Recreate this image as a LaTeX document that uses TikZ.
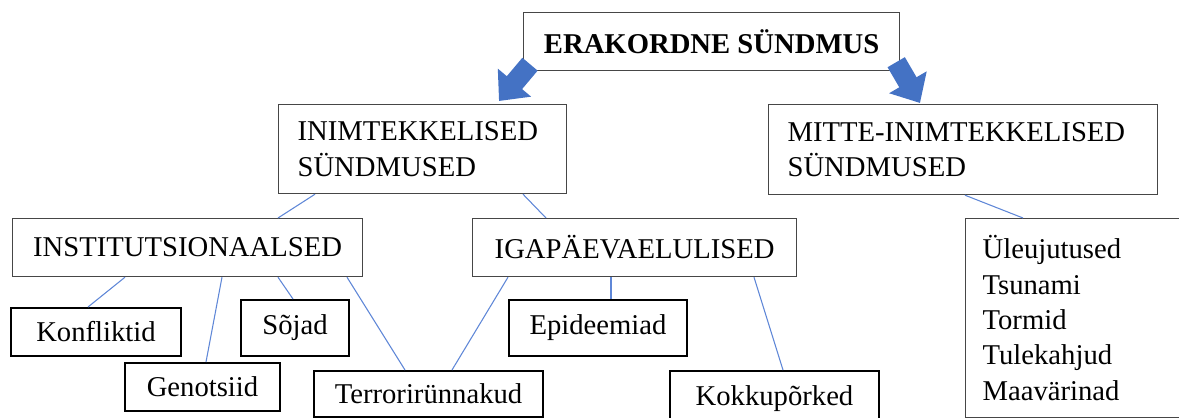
\documentclass[tikz,border=0pt]{standalone}
\usepackage{fontspec}
\setmainfont{Liberation Serif}
\usetikzlibrary{positioning,arrows.meta}
\definecolor{linkblue}{RGB}{95,135,215}
\definecolor{arrowblue}{RGB}{68,114,196}
\definecolor{boxgray}{RGB}{70,70,70}

\begin{document}
\begin{tikzpicture}[
  x=0.75pt, y=-0.75pt,
  font=\fontsize{21.5}{26.5}\selectfont,
  box/.style={draw=boxgray, line width=0.9pt, anchor=north west, inner sep=0pt, align=center},
  textbox/.style={box, align=left, inner xsep=14.25pt},
  leaf/.style={draw=black, line width=1.5pt, anchor=north west, inner sep=0pt},
  link/.style={draw=linkblue, line width=0.8pt},
  bigarr/.style={draw=arrowblue, line width=15pt, -{Triangle[length=18pt,width=31.5pt]}}]
\clip (0,0) rectangle (1179,418);
% main levels
\node[box, minimum width=282pt, minimum height=43.5pt] (event) at (523,12) {\bfseries ERAKORDNE SÜNDMUS};
\node[textbox, text width=187.5pt, minimum height=66.75pt] (human) at (278,104) {INIMTEKKELISED\\SÜNDMUSED};
\node[textbox, text width=263.25pt, minimum height=67.5pt] (natural) at (768,104) {MITTE-INIMTEKKELISED\\SÜNDMUSED};
\node[box, minimum width=262.5pt, minimum height=43.5pt] (inst) at (12,218) {INSTITUTSIONAALSED};
\node[box, minimum width=243pt, minimum height=43.5pt] (daily) at (472,218) {IGAPÄEVAELULISED};
\node[box, align=left, inner xsep=12.75pt, text width=147pt, minimum height=149.25pt] (list) at (965,218)
  {Üleujutused\\Tsunami\\Tormid\\Tulekahjud\\Maavärinad};
% leaves
\node[leaf, minimum width=127.5pt, minimum height=36pt] (konf) at (10,307) {Konfliktid};
\node[leaf, minimum width=116.25pt, minimum height=36pt] (geno) at (124,362) {Genotsiid};
\node[leaf, minimum width=81pt, minimum height=42pt] (war) at (240,299) {Sõjad};
\node[leaf, minimum width=171.75pt, minimum height=34.5pt] (terror) at (313,370) {Terrorirünnakud};
\node[leaf, minimum width=133.5pt, minimum height=42pt] (epid) at (508,299) {Epideemiad};
\node[leaf, minimum width=156.75pt, minimum height=42pt] (crash) at (669,370) {Kokkupõrked};
% connectors
\draw[link] ([xshift=27.75pt]human.south west) -- ([xshift=199.5pt]inst.north west);
\draw[link] ([xshift=183.75pt]human.south west) -- ([xshift=55.5pt]daily.north west);
\draw[link] ([xshift=147.75pt]natural.south west) -- ([xshift=43.5pt]list.north west);
\draw[link] ([xshift=84.75pt]inst.south west) -- ([xshift=58.5pt]konf.north west);
\draw[link] ([xshift=157.5pt]inst.south west) -- ([xshift=61.5pt]geno.north west);
\draw[link] ([xshift=199.5pt]inst.south west) -- ([xshift=39.75pt]war.north west);
\draw[link] ([xshift=251.25pt]inst.south west) -- ([xshift=69pt]terror.north west);
\draw[link] ([xshift=27pt]daily.south west) -- ([xshift=104.25pt]terror.north west);
\draw[link] ([xshift=104.25pt]daily.south west) -- ([xshift=77.25pt]epid.north west);
\draw[link] ([xshift=211.5pt]daily.south west) -- ([xshift=85.5pt]crash.north west);
% block arrows
\draw[bigarr] ([xshift=5.25pt, yshift=5.25pt]event.south west) -- ([xshift=165.75pt, yshift=2.25pt]human.north west);
\draw[bigarr] ([xshift=-3pt, yshift=6.75pt]event.south east) -- ([xshift=114pt, yshift=0.75pt]natural.north west);
\end{tikzpicture}
\end{document}
